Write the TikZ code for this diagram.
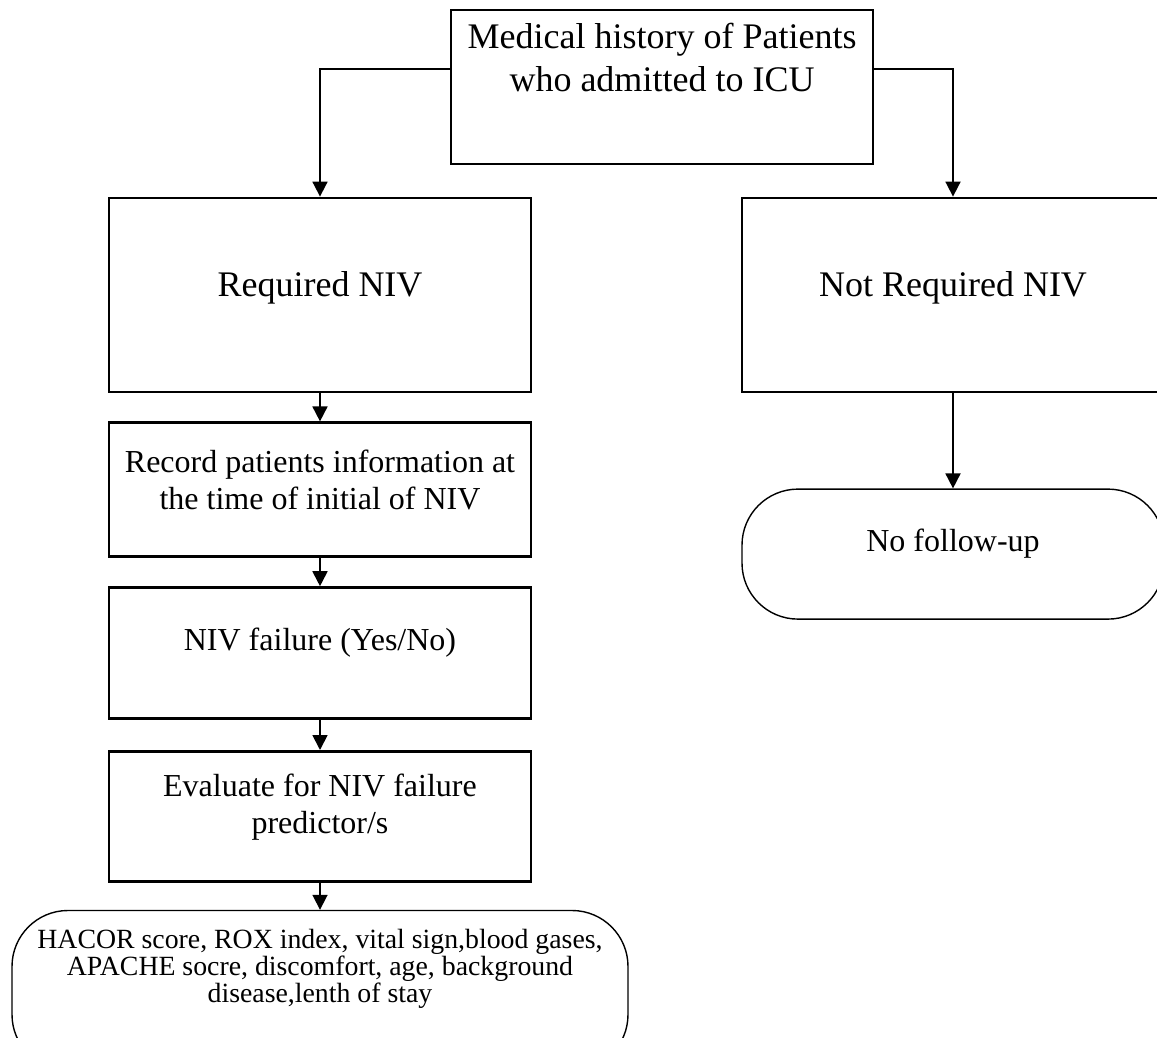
\documentclass[tikz,border=0pt]{standalone}
\usepackage{fontspec}
\setmainfont{Liberation Serif}
\usetikzlibrary{arrows.meta,positioning}

\begin{document}
\begin{tikzpicture}[
  x=0.5pt, y=-0.5pt,
  stepbox/.style={rectangle, draw, line width=1.4pt, minimum width=211pt, align=center},
  endbox/.style={rectangle, draw, line width=0.7pt, rounded corners=28pt, align=center},
  bigtext/.style={font=\fontsize{18}{21.5}\selectfont},
  midtext/.style={font=\fontsize{16}{18.5}\selectfont},
  arr/.style={-{Triangle[length=7.5pt,width=7.5pt]}, line width=0.9pt},
  node distance=14pt
]
  \useasboundingbox (0,0) rectangle (1157,1038);

  \node[stepbox, bigtext, minimum height=77pt] (hist) at (662,87) {Medical history of Patients\\who admitted to ICU\\[8.5pt]\mbox{}};
  \node[stepbox, bigtext, minimum height=97pt] (req) at (320,295) {Required NIV\\[-11pt]\mbox{}};
  \node[stepbox, bigtext, minimum height=97pt] (noreq) at (953,295) {Not Required NIV\\[-11pt]\mbox{}};

  \node[stepbox, midtext, minimum height=67pt, below=of req] (rec) {Record patients information at\\the time of initial of NIV\\[-8pt]\mbox{}};
  \node[stepbox, midtext, minimum height=65.5pt, below=of rec] (fail) {NIV failure (Yes/No)\\[-4.7pt]\mbox{}};
  \node[stepbox, midtext, minimum height=65pt, below=15pt of fail] (eval) {Evaluate for NIV failure\\predictor/s\\[-6pt]\mbox{}};
  \node[endbox, font=\fontsize{13.9}{13.5}\selectfont, minimum width=308pt, minimum height=80pt, below=13.5pt of eval] (pred) {HACOR score, ROX index, vital sign,blood gases,\\APACHE socre, discomfort, age, background\\disease,lenth of stay\\[11.5pt]\mbox{}};
  \node[endbox, midtext, minimum width=211pt, minimum height=65pt, below=47.5pt of noreq] (nofu) {No follow-up\\[-5pt]\mbox{}};

  \draw[arr] ([yshift=9pt]hist.west) -| (req.north);
  \draw[arr] ([yshift=9pt]hist.east) -| (noreq.north);
  \draw[arr] (req) -- (rec);
  \draw[arr] (rec) -- (fail);
  \draw[arr] (fail) -- (eval);
  \draw[arr] (eval) -- (pred);
  \draw[arr] (noreq) -- (nofu);
\end{tikzpicture}
\end{document}
